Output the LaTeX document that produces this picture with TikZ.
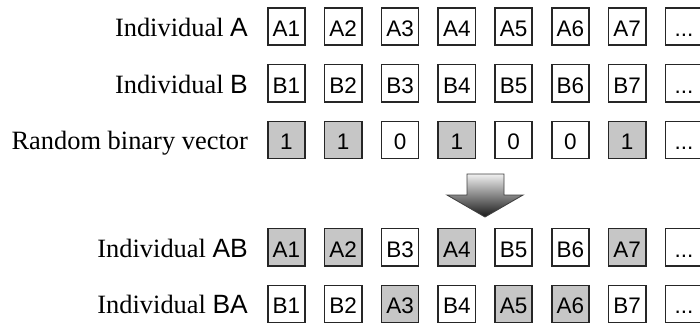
\documentclass[tikz,border=0pt]{standalone}
\usepackage{fontspec}
\setmainfont{Liberation Serif}
\setsansfont{Liberation Sans}
\usetikzlibrary{positioning}
\usepackage{xcolor}
\definecolor{cellgray}{RGB}{198,198,198}

\begin{document}
\begin{tikzpicture}[node distance=1.42cm]

	% Define style for boxes
	\tikzstyle{cell} = [rectangle, draw=black!85, line width=1.2pt, fill=white,
						minimum size=0.93cm, inner sep=0pt,
						text height=14pt, text depth=0pt,
						font=\fontsize{16}{19}\sffamily]
	\tikzstyle{pick} = [cell, fill=cellgray]

	% Define style for row names
	\tikzstyle{rowname} = [inner sep=0pt, anchor=base east,
						font=\fontsize{18.8}{22}\selectfont]

	\path [use as bounding box, clip] (0,0) rectangle (17.5,-8.075);

	% Individual A
	\node [cell] (a1) at (7.16,-0.66) {A1};
	\node [cell, right of=a1] (a2) {A2};
	\node [cell, right of=a2] (a3) {A3};
	\node [cell, right of=a3] (a4) {A4};
	\node [cell, right of=a4] (a5) {A5};
	\node [cell, right of=a5] (a6) {A6};
	\node [cell, right of=a6] (a7) {A7};
	\node [cell, right of=a7] (a8) {...};

	% Individual B
	\node [cell, below of=a1] (b1) {B1};
	\node [cell, right of=b1] (b2) {B2};
	\node [cell, right of=b2] (b3) {B3};
	\node [cell, right of=b3] (b4) {B4};
	\node [cell, right of=b4] (b5) {B5};
	\node [cell, right of=b5] (b6) {B6};
	\node [cell, right of=b6] (b7) {B7};
	\node [cell, right of=b7] (b8) {...};

	% Random binary vector
	\node [pick, below of=b1] (r1) {1};
	\node [pick, right of=r1] (r2) {1};
	\node [cell, right of=r2] (r3) {0};
	\node [pick, right of=r3] (r4) {1};
	\node [cell, right of=r4] (r5) {0};
	\node [cell, right of=r5] (r6) {0};
	\node [pick, right of=r6] (r7) {1};
	\node [cell, right of=r7] (r8) {...};

	% Individual AB
	\node [pick, node distance=2.68cm, below of=r1] (ab1) {A1};
	\node [pick, right of=ab1] (ab2) {A2};
	\node [cell, right of=ab2] (ab3) {B3};
	\node [pick, right of=ab3] (ab4) {A4};
	\node [cell, right of=ab4] (ab5) {B5};
	\node [cell, right of=ab5] (ab6) {B6};
	\node [pick, right of=ab6] (ab7) {A7};
	\node [cell, right of=ab7] (ab8) {...};

	% Individual BA
	\node [cell, below of=ab1] (ba1) {B1};
	\node [cell, right of=ba1] (ba2) {B2};
	\node [pick, right of=ba2] (ba3) {A3};
	\node [cell, right of=ba3] (ba4) {B4};
	\node [pick, right of=ba4] (ba5) {A5};
	\node [pick, right of=ba5] (ba6) {A6};
	\node [cell, right of=ba6] (ba7) {B7};
	\node [cell, right of=ba7] (ba8) {...};

	% Row names
	\node [rowname] (nameA) at ([xshift=-0.47cm]a1.base west) {Individual \textsf{A}};
	\node [rowname] (nameB) at ([xshift=-0.47cm]b1.base west) {Individual \textsf{B}};
	\node [rowname] (nameR) at ([xshift=-0.47cm]r1.base west) {Random binary vector};
	\node [rowname] (nameAB) at ([xshift=-0.47cm]ab1.base west) {Individual \textsf{AB}};
	\node [rowname] (nameBA) at ([xshift=-0.47cm]ba1.base west) {Individual \textsf{BA}};

	% Draw the big arrow
	\shadedraw [top color=gray!12, bottom color=black!90, draw=black!75, line width=0.6pt]
		(11.675,-4.35) -- (12.6,-4.35) -- (12.6,-4.875) -- (13.075,-4.875)
		-- (12.125,-5.425) -- (11.175,-4.875) -- (11.675,-4.875) -- cycle;
\end{tikzpicture}
\end{document}
